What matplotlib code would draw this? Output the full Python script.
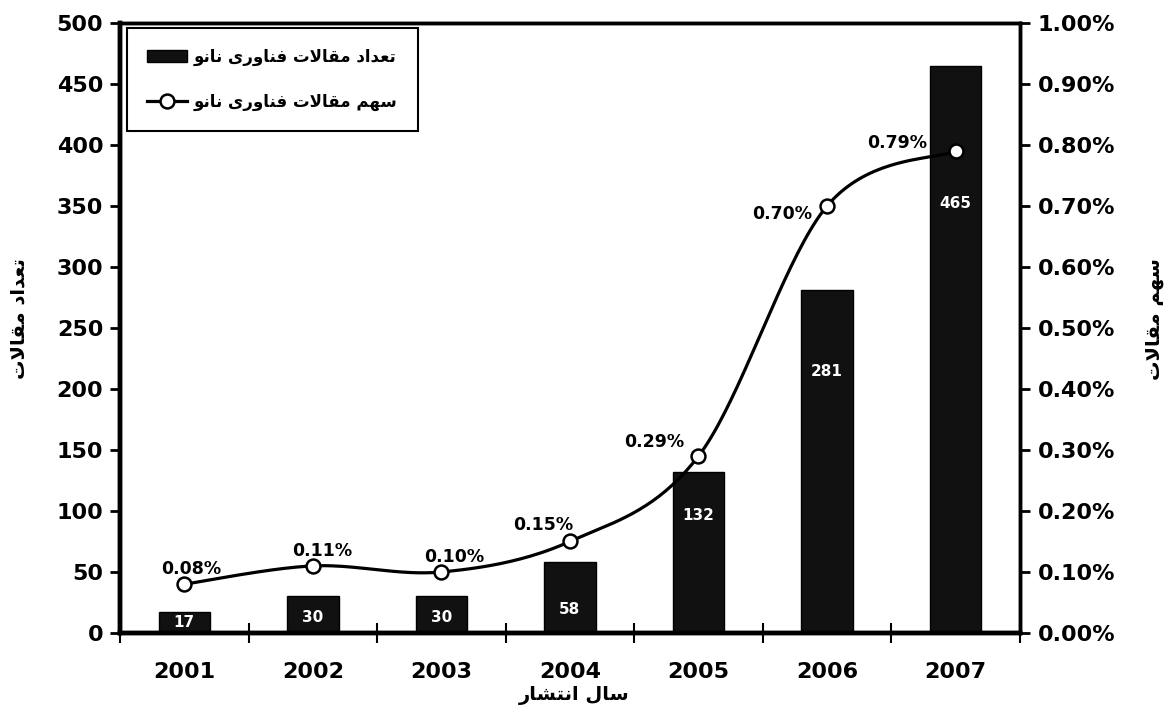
import matplotlib
matplotlib.use("Agg")
import matplotlib.pyplot as plt
import numpy as np
from matplotlib.lines import Line2D

plt.rcParams['font.family'] = ['DejaVu Sans']
plt.rcParams['font.weight'] = 'bold'

years = ['2001', '2002', '2003', '2004', '2005', '2006', '2007']
counts = [17, 30, 30, 58, 132, 281, 465]          # number of nano papers
shares = [0.08, 0.11, 0.10, 0.15, 0.29, 0.70, 0.79]  # share of all papers, %

# minimal Persian shaping: contextual forms + right-to-left order
FORMS = {  # isolated, final, initial, medial
    'ا': ('\uFE8D', '\uFE8E', None, None),
    'د': ('\uFEA9', '\uFEAA', None, None),
    'و': ('\uFEED', '\uFEEE', None, None),
    'ر': ('\uFEAD', '\uFEAE', None, None),
    'ت': ('\uFE95', '\uFE96', '\uFE97', '\uFE98'),
    'ع': ('\uFEC9', '\uFECA', '\uFECB', '\uFECC'),
    'م': ('\uFEE1', '\uFEE2', '\uFEE3', '\uFEE4'),
    'ق': ('\uFED5', '\uFED6', '\uFED7', '\uFED8'),
    'ل': ('\uFEDD', '\uFEDE', '\uFEDF', '\uFEE0'),
    'ف': ('\uFED1', '\uFED2', '\uFED3', '\uFED4'),
    'ن': ('\uFEE5', '\uFEE6', '\uFEE7', '\uFEE8'),
    'ی': ('\uFBFC', '\uFBFD', '\uFBFE', '\uFBFF'),
    'س': ('\uFEB1', '\uFEB2', '\uFEB3', '\uFEB4'),
    'ه': ('\uFEE9', '\uFEEA', '\uFEEB', '\uFEEC'),
    'ش': ('\uFEB5', '\uFEB6', '\uFEB7', '\uFEB8'),
}


def dual(c):
    return c in FORMS and FORMS[c][2] is not None


def fa(text):
    out = []
    for word in text.split(' '):
        res = ''
        i = 0
        while i < len(word):
            c = word[i]
            prev = i > 0 and dual(word[i - 1])
            if c == 'ل' and i + 1 < len(word) and word[i + 1] == 'ا':
                res += '\uFEFC' if prev else '\uFEFB'
                i += 2
                continue
            nxt = dual(c) and i + 1 < len(word) and word[i + 1] in FORMS
            f = FORMS.get(c)
            if f is None:
                res += c
            elif prev and nxt:
                res += f[3]
            elif prev:
                res += f[1]
            elif nxt:
                res += f[2]
            else:
                res += f[0]
            i += 1
        out.append(res)
    return ' '.join(out)[::-1]


fig = plt.figure(figsize=(11.68, 7.11), dpi=100)
ax1 = fig.add_axes([0.1027, 0.1097, 0.7705, 0.858])
ax2 = ax1.twinx()

x = np.arange(len(years))
bars = ax1.bar(x, counts, width=0.4, color='#111111', edgecolor='black', linewidth=1)

# value labels inside the bars
label_y = [9, 13, 13, 19, 96, 214, 352]
for xi, v, ly in zip(x, counts, label_y):
    ax1.text(xi, ly, str(v), color='white', ha='center', va='center', fontsize=11, fontweight='bold')

# smooth curve through the share points (Catmull-Rom as cubic bezier)
px = np.asarray(x, float)
py = np.asarray(shares, float)
cx, cy = [], []
t = np.linspace(0, 1, 40)
for i in range(len(px) - 1):
    i0, i3 = max(i - 1, 0), min(i + 2, len(px) - 1)
    b0 = np.array([px[i], py[i]])
    b3 = np.array([px[i + 1], py[i + 1]])
    b1 = b0 + (b3 - np.array([px[i0], py[i0]])) / 6
    b2 = b3 - (np.array([px[i3], py[i3]]) - b0) / 6
    seg = ((1 - t) ** 3)[:, None] * b0 + (3 * (1 - t) ** 2 * t)[:, None] * b1 \
        + (3 * (1 - t) * t ** 2)[:, None] * b2 + (t ** 3)[:, None] * b3
    cx.extend(seg[:, 0])
    cy.extend(seg[:, 1])
ax2.plot(cx, cy, color='black', lw=2.3, zorder=2)
ax2.plot(x, shares, ls='none', marker='o', ms=10, mfc='white', mec='black', mew=1.8, zorder=3)

offsets = [(5, 11), (7, 11), (9, 11), (-19, 12), (-32, 10), (-32, -6), (-42, 6)]
for xi, s, off in zip(x, shares, offsets):
    ax2.annotate('%.2f%%' % s, (xi, s), xytext=off, textcoords='offset points',
                 ha='center', va='center', fontsize=12.5, fontweight='bold')

ax1.set_xlim(-0.5, len(years) - 0.5)
ax1.set_ylim(0, 500)
ax2.set_ylim(0, 1.0)
ax1.set_yticks(np.arange(0, 501, 50))
ax2.set_yticks(np.arange(0, 1.01, 0.1))
ax2.set_yticklabels(['%.2f%%' % v for v in np.arange(0, 1.01, 0.1)])

ax1.set_xticks(np.arange(-0.5, len(years), 1.0))
ax1.set_xticklabels([])
ax1.set_xticks(x, minor=True)
ax1.set_xticklabels(years, minor=True)
ax1.tick_params(axis='x', which='major', direction='inout', length=14, width=1.5)
ax1.tick_params(axis='x', which='minor', length=0, pad=21, labelsize=16)
ax1.tick_params(axis='y', direction='out', length=7, width=2, labelsize=16, pad=5)
ax2.tick_params(axis='y', direction='out', length=7, width=2, labelsize=16, pad=6)
for lab in ax1.get_xticklabels(minor=True) + ax1.get_yticklabels() + ax2.get_yticklabels():
    lab.set_fontweight('bold')

for ax in (ax1, ax2):
    ax.spines['left'].set_linewidth(3.2)
    ax.spines['bottom'].set_linewidth(3.2)
    ax.spines['top'].set_linewidth(2.5)
    ax.spines['right'].set_linewidth(2.5)

ax1.set_xlabel(fa('سال انتشار'), fontsize=14, fontweight='bold', va='top')
ax1.xaxis.set_label_coords(0.505, -0.087)
ax1.set_ylabel(fa('تعداد مقالات'), fontsize=14, fontweight='bold')
ax1.yaxis.set_label_coords(-0.102, 0.515)
ax2.set_ylabel(fa('سهم مقالات'), fontsize=14, fontweight='bold', rotation=90)
ax2.yaxis.set_label_coords(1.139, 0.515)

line_handle = Line2D([], [], color='black', lw=2.3, marker='o', ms=10, mfc='white', mec='black', mew=1.8)
leg = ax2.legend([bars, line_handle], [fa('تعداد مقالات فناوری نانو'), fa('سهم مقالات فناوری نانو')],
                 loc='upper left', bbox_to_anchor=(0.008, 0.992), borderaxespad=0,
                 fancybox=False, framealpha=1, edgecolor='black', handlelength=2.4,
                 handletextpad=0.4, borderpad=1.2, labelspacing=1.6,
                 prop={'weight': 'bold', 'size': 12})
leg.get_frame().set_linewidth(1.5)

fig.savefig('out.png', dpi=100)
